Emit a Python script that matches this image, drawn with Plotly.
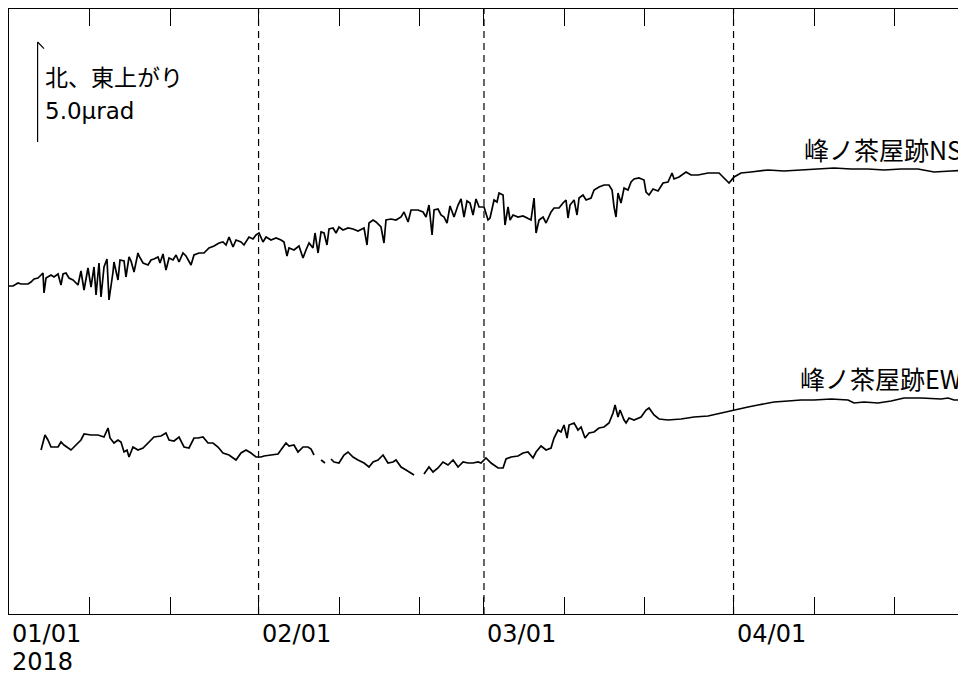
import pandas as pd
import plotly.graph_objects as go

BASE = pd.Timestamp("2018-01-01")

# ---- data: days since 2018-01-01, tilt in micro-radians (arbitrary offset) ----
ns_days = [0.00, 0.50, 1.12, 1.49, 2.36, 2.73, 3.11, 3.60, 3.98, 4.22, 4.35, 4.60, 5.22, 5.59, 6.09, 6.46,
           6.71, 7.08, 7.45, 7.95, 8.57, 8.94, 9.32, 9.81, 10.19, 10.56, 10.81, 11.18, 11.43, 11.80, 12.17,
           12.42, 12.92, 13.04, 13.54, 13.79, 14.29, 14.53, 14.91, 15.16, 15.53, 16.02, 16.15, 16.65, 17.27,
           17.64, 18.01, 18.51, 18.76, 19.13, 19.50, 19.88, 20.37, 20.75, 21.12, 21.61, 21.99, 22.61, 22.98,
           23.60, 24.22, 24.84, 25.47, 26.09, 26.58, 26.96, 27.33, 27.83, 28.20, 28.82, 29.19, 29.81, 30.31,
           30.68, 31.06, 31.55, 31.93, 32.55, 33.17, 33.79, 34.16, 34.53, 34.78, 35.40, 36.02, 36.52, 36.89,
           37.27, 37.76, 38.01, 38.39, 38.76, 39.13, 39.50, 39.75, 40.25, 40.62, 40.99, 41.49, 42.11, 42.73,
           43.35, 44.10, 44.47, 44.72, 45.22, 45.59, 46.21, 46.58, 46.83, 47.45, 48.07, 48.70, 49.07, 49.57,
           49.94, 50.81, 51.43, 51.80, 52.17, 52.55, 52.80, 53.29, 53.66, 54.04, 54.41, 54.78, 55.28, 55.78,
           56.15, 56.52, 56.89, 57.27, 57.64, 58.01, 58.39, 59.01, 59.50, 59.75, 60.25, 60.62, 60.87, 61.37,
           61.61, 61.99, 62.24, 62.61, 63.23, 63.85, 64.47, 64.84, 65.22, 65.47, 65.84, 66.34, 66.71, 67.33,
           67.70, 68.32, 68.82, 69.19, 69.44, 69.69, 70.19, 70.56, 70.81, 71.30, 71.68, 72.30, 72.67, 73.29,
           73.91, 74.53, 74.91, 75.16, 75.40, 75.65, 76.02, 76.40, 76.89, 77.27, 77.64, 78.26, 78.88, 79.13,
           79.50, 80.00, 80.62, 81.24, 81.86, 82.36, 82.61, 83.23, 84.10, 84.72, 85.59, 86.83, 88.20, 88.82,
           89.44, 90.06, 90.93, 92.17, 94.29, 96.27, 98.39, 100.50, 102.48, 104.60, 106.71, 108.70, 110.81,
           112.92, 114.91, 117.02, 119.01]
ns_vals = [16.40, 16.40, 16.55, 16.50, 16.50, 16.60, 16.75, 16.80, 16.95, 17.05, 16.05, 16.80, 16.95, 16.85,
           17.00, 16.45, 17.00, 17.05, 16.80, 16.70, 16.45, 17.15, 16.20, 17.30, 16.35, 17.35, 15.95, 17.55,
           15.85, 17.35, 17.75, 15.70, 17.10, 17.60, 16.70, 17.70, 17.65, 16.85, 17.85, 17.65, 17.10, 18.05,
           17.90, 17.55, 17.45, 17.70, 17.75, 17.85, 17.55, 18.00, 17.20, 17.80, 17.70, 17.95, 17.60, 18.05,
           17.90, 17.45, 17.95, 18.05, 18.05, 18.30, 18.40, 18.55, 18.60, 18.45, 18.85, 18.35, 18.70, 18.60,
           18.45, 18.85, 18.75, 18.95, 19.05, 18.60, 18.85, 18.70, 18.80, 18.70, 18.60, 17.90, 18.30, 18.20,
           18.40, 17.80, 18.20, 18.55, 18.30, 19.05, 18.05, 19.10, 19.05, 18.45, 19.25, 19.30, 19.05, 19.35,
           19.20, 19.30, 19.25, 19.15, 19.30, 18.45, 19.55, 19.70, 19.60, 19.35, 18.55, 19.70, 19.75, 19.70,
           19.85, 20.10, 19.60, 20.20, 20.20, 20.10, 19.85, 20.45, 18.95, 20.20, 20.25, 19.95, 19.85, 19.55,
           20.40, 19.85, 20.45, 20.75, 19.85, 20.65, 20.55, 19.95, 20.75, 20.35, 20.35, 19.70, 19.80, 20.70,
           20.60, 21.05, 20.95, 19.45, 20.35, 19.70, 19.95, 19.85, 19.90, 19.80, 19.70, 20.80, 19.05, 19.70,
           19.85, 19.55, 20.10, 20.30, 20.30, 20.55, 20.70, 19.80, 20.45, 20.70, 19.95, 20.80, 20.95, 20.70,
           20.80, 21.20, 21.35, 21.45, 21.45, 21.20, 20.35, 19.85, 21.05, 20.55, 21.30, 21.20, 21.60, 21.75,
           21.80, 21.70, 21.10, 20.95, 21.25, 21.15, 21.55, 21.60, 22.05, 21.75, 21.85, 22.10, 21.95, 21.95,
           22.05, 22.05, 21.80, 21.55, 21.85, 22.05, 22.10, 22.20, 22.15, 22.20, 22.25, 22.30, 22.25, 22.25,
           22.20, 22.25, 22.25, 22.10, 22.15, 22.20]

ew_days = [3.98, 4.22, 4.47, 4.84, 5.22, 6.09, 6.46, 6.83, 7.70, 8.32, 8.94, 9.32, 10.19, 11.06, 11.80,
           12.30, 12.55, 13.04, 13.54, 13.91, 14.29, 14.66, 14.91, 15.40, 16.02, 16.65, 17.27, 18.01, 18.88,
           19.50, 19.88, 20.50, 21.12, 21.74, 22.36, 22.98, 23.48, 24.10, 24.72, 25.34, 25.96, 26.58, 27.33,
           28.20, 28.82, 29.44, 30.06, 30.68, 31.30, 31.68, 32.55, 33.42, 34.04, 34.41, 34.78, 35.40, 35.90,
           36.52, 37.14, 37.52, 37.89, 38.30, 38.76, 39.25, 39.60, 40.00, 40.37, 40.99, 41.61, 42.11, 42.73,
           43.35, 44.10, 44.72, 45.22, 45.84, 46.46, 47.08, 47.70, 48.07, 48.70, 49.32, 49.94, 50.31, 51.00,
           51.55, 52.17, 52.67, 53.29, 53.91, 54.53, 55.16, 55.78, 56.40, 57.02, 57.64, 58.26, 58.63, 59.25,
           59.88, 60.75, 61.37, 61.74, 62.36, 63.23, 63.85, 64.47, 65.09, 65.47, 66.09, 66.71, 67.33, 67.70,
           68.20, 68.57, 68.94, 69.32, 69.57, 70.19, 70.68, 71.06, 71.55, 72.05, 72.67, 73.29, 73.91, 74.53,
           75.03, 75.28, 75.65, 75.90, 76.40, 76.65, 77.02, 77.64, 78.51, 79.13, 79.50, 80.12, 80.75, 81.86,
           83.48, 85.09, 86.83, 88.45, 89.44, 90.31, 91.80, 93.04, 94.29, 95.03, 96.77, 98.39, 100.00, 102.11,
           104.22, 104.97, 106.21, 107.95, 109.57, 111.18, 113.29, 115.78, 116.65, 117.39, 119.13]
ew_vals = [8.20, 8.60, 8.95, 8.70, 8.35, 8.35, 8.60, 8.45, 8.20, 8.45, 8.70, 9.00, 8.95, 8.95, 8.85,
           9.30, 8.80, 8.55, 8.70, 8.60, 8.10, 8.20, 7.85, 8.35, 8.20, 8.30, 8.55, 8.85, 8.90,
           9.05, 8.70, 8.65, 8.85, 8.35, 8.30, 8.80, 8.80, 8.85, 8.55, 8.55, 8.35, 8.05, 7.95,
           7.70, 8.05, 8.20, 8.05, 7.85, 7.85, 7.90, 7.95, 8.00, 8.35, 8.55, 8.40, 8.45, 8.10,
           8.35, 8.35, 8.25, 7.95, None, 7.70, 7.55, None, 7.75, 7.60, 7.55, 7.95, 8.10, 7.85,
           7.70, 7.55, 7.35, 7.60, 7.70, 7.95, 7.55, 7.60, 7.70, 7.35, 7.20, 7.05, 6.95, None,
           7.00, 7.35, 7.10, 7.30, 7.60, 7.45, 7.70, 7.35, 7.60, 7.55, 7.55, 7.60, 7.55, 7.80,
           7.55, 7.30, 7.30, 7.75, 7.85, 7.90, 8.05, 8.10, 7.80, 8.10, 8.40, 8.20, 8.30, 8.80,
           9.20, 9.10, 9.45, 8.80, 9.45, 9.55, 9.20, 9.35, 8.80, 9.05, 9.10, 9.30, 9.35, 9.55,
           10.05, 10.45, 9.85, 10.20, 9.70, 9.55, 9.80, 9.70, 9.85, 10.20, 10.30, 9.95, 9.75, 9.70,
           9.75, 9.85, 9.90, 10.05, 10.15, 10.25, 10.35, 10.45, 10.55, 10.60, 10.65, 10.70, 10.70, 10.75,
           10.70, 10.55, 10.60, 10.55, 10.65, 10.80, 10.80, 10.75, 10.80, 10.70, 10.70]

series_names = ["峰ノ茶屋跡NS", "峰ノ茶屋跡EW"]
label_levels = [23.25, 11.8]           # where the station names sit (µrad)

month_starts = ["2018-01-01", "2018-02-01", "2018-03-01", "2018-04-01"]
month_labels = ["01/01", "02/01", "03/01", "04/01"]
year_label = "2018"
tick_dates = ["2018-01-01", "2018-01-11", "2018-01-21", "2018-02-01", "2018-02-11", "2018-02-21",
              "2018-03-01", "2018-03-11", "2018-03-21", "2018-04-01", "2018-04-11", "2018-04-21"]

scale_day = 3.55         # scale bar position (days)
scale_bottom = 23.6      # µrad
scale_len = 5.0          # µrad
scale_text = ["北、東上がり", "5.0μrad"]
scale_text_levels = [26.8, 25.15]

# ---- figure ----
def to_dates(days):
    return [BASE + pd.Timedelta(days=d) for d in days]

fig = go.Figure()
for name, d, v in [(series_names[0], ns_days, ns_vals), (series_names[1], ew_days, ew_vals)]:
    fig.add_trace(go.Scatter(x=to_dates(d), y=v, mode="lines", name=name,
                             line=dict(color="black", width=1.7), connectgaps=False,
                             showlegend=False, hoverinfo="skip"))

JP = "Noto Sans CJK JP"
LAT = "DejaVu Sans, Noto Sans CJK JP"
shapes = []
for m in month_starts[1:]:
    shapes.append(dict(type="line", xref="x", yref="paper", x0=m, x1=m, y0=0, y1=1,
                       line=dict(color="black", width=1.2, dash="7px,5px")))
# scale bar
sx = BASE + pd.Timedelta(days=scale_day)
sx2 = BASE + pd.Timedelta(days=scale_day + 0.8)
shapes.append(dict(type="line", xref="x", yref="y", x0=sx, x1=sx, y0=scale_bottom,
                   y1=scale_bottom + scale_len, line=dict(color="black", width=1.2)))
shapes.append(dict(type="line", xref="x", yref="y", x0=sx, x1=sx2, y0=scale_bottom + scale_len,
                   y1=scale_bottom + scale_len - 0.33, line=dict(color="black", width=1.2)))

annotations = []
for m, lab in zip(month_starts, month_labels):
    annotations.append(dict(x=m, xref="x", y=0, yref="paper", yanchor="middle", xanchor="left",
                            text=lab, showarrow=False, xshift=1, yshift=-20,
                            font=dict(family=LAT, size=24, color="black")))
annotations.append(dict(x=month_starts[0], xref="x", y=0, yref="paper", yanchor="middle",
                        xanchor="left", text=year_label, showarrow=False, xshift=1, yshift=-48,
                        font=dict(family=LAT, size=24, color="black")))
for name, lvl in zip(series_names, label_levels):
    annotations.append(dict(x=1, xref="paper", y=lvl, yref="y", xanchor="right", yanchor="middle",
                            text=name, showarrow=False, xshift=-2,
                            font=dict(family=JP, size=25, color="black")))
for txt, lvl in zip(scale_text, scale_text_levels):
    annotations.append(dict(x=sx, xref="x", y=lvl, yref="y", xanchor="left", yanchor="middle",
                            text=txt, showarrow=False, xshift=5,
                            font=dict(family=LAT, size=23, color="black")))

fig.update_layout(
    width=958, height=671,
    margin=dict(l=1, r=0, t=1, b=65),
    paper_bgcolor="white", plot_bgcolor="white",
    shapes=shapes, annotations=annotations,
    xaxis=dict(type="date", range=["2018-01-01", "2018-04-29 21:00"],
               tickvals=tick_dates, ticktext=[""] * len(tick_dates),
               ticks="inside", ticklen=17, tickwidth=1.3, tickcolor="black",
               showline=True, linecolor="black", linewidth=1.3, mirror="ticks",
               showgrid=False, zeroline=False),
    yaxis=dict(range=[0, 30.25], showticklabels=False, ticks="", showgrid=False,
               zeroline=False, showline=True, linecolor="black", linewidth=1.3, mirror=False),
)

fig.write_html("out.html")
